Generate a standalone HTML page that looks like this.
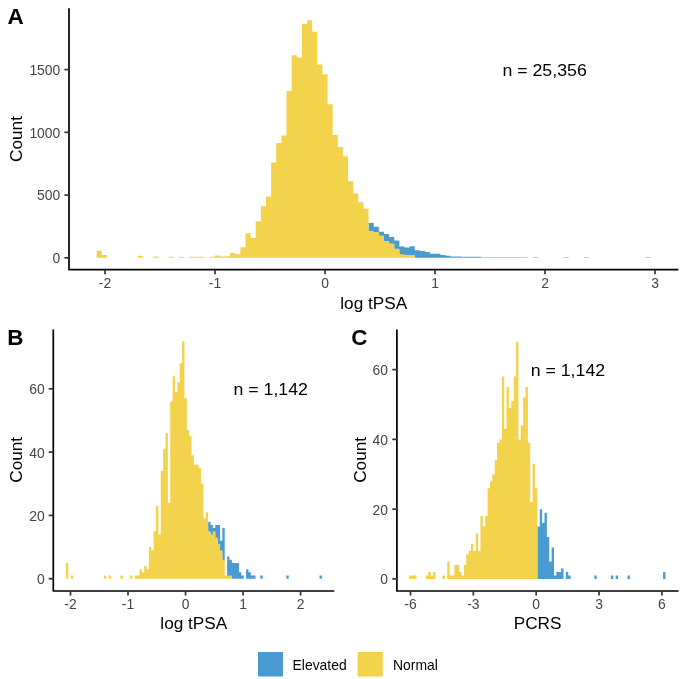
<!DOCTYPE html>
<html><head><meta charset="utf-8"><title>Histograms</title>
<style>
html,body{margin:0;padding:0;background:#fff;}
body{width:685px;height:679px;overflow:hidden;}
svg{display:block;font-family:"Liberation Sans", sans-serif;will-change:transform;filter:blur(0.3px);}
</style></head>
<body>
<svg width="685" height="679" viewBox="0 0 685 679">
<rect width="685" height="679" fill="#fff"/>
<path d="M368.59 232L368.59 222.9L373.72 222.9L373.72 226.8L378.85 226.8L378.85 231.7L383.98 231.7L383.98 234L389.11 234L389.11 237L394.24 237L394.24 240.4L399.37 240.4L399.37 246.5L404.5 246.5L404.5 247.5L409.63 247.5L409.63 246.3L414.76 246.3L414.76 250.3L419.89 250.3L419.89 251L425.02 251L425.02 252.1L430.15 252.1L430.15 253.8L435.28 253.8L435.28 253.8L440.41 253.8L440.41 255L445.54 255L445.54 255.8L450.67 255.8L450.67 256.6L455.8 256.6L455.8 256.6L460.93 256.6L460.93 256.8L466.06 256.8L466.06 256.8L471.19 256.8L471.19 256.8L476.32 256.8L476.32 256.8L481.45 256.8L481.45 257.8L476.32 257.8L476.32 257.8L471.19 257.8L471.19 257.8L466.06 257.8L466.06 257.8L460.93 257.8L460.93 257.8L455.8 257.8L455.8 257.8L450.67 257.8L450.67 257.8L445.54 257.8L445.54 257.8L440.41 257.8L440.41 257.8L435.28 257.8L435.28 257.8L430.15 257.8L430.15 257.8L425.02 257.8L425.02 257.8L419.89 257.8L419.89 257.8L414.76 257.8L414.76 256L409.63 256L409.63 256L404.5 256L404.5 255.2L399.37 255.2L399.37 249.8L394.24 249.8L394.24 244.6L389.11 244.6L389.11 241.9L383.98 241.9L383.98 236.5L378.85 236.5L378.85 233L373.72 233L373.72 232L368.59 232Z" fill="#4B9BD3"/>
<path d="M481.45 257.8L481.45 256.9L486.58 256.9L486.58 256.9L491.71 256.9L491.71 256.9L496.84 256.9L496.84 256.9L501.97 256.9L501.97 256.9L507.1 256.9L507.1 256.9L512.23 256.9L512.23 256.9L517.36 256.9L517.36 256.9L522.49 256.9L522.49 256.9L527.62 256.9L527.62 257.8L522.49 257.8L522.49 257.8L517.36 257.8L517.36 257.8L512.23 257.8L512.23 257.8L507.1 257.8L507.1 257.8L501.97 257.8L501.97 257.8L496.84 257.8L496.84 257.8L491.71 257.8L491.71 257.8L486.58 257.8L486.58 257.8L481.45 257.8ZM532.75 257.8L532.75 256.9L537.88 256.9L537.88 257.8L532.75 257.8ZM563.53 257.8L563.53 256.9L568.66 256.9L568.66 257.8L563.53 257.8ZM584.05 257.8L584.05 256.9L589.18 256.9L589.18 257.8L584.05 257.8ZM645.61 257.8L645.61 256.9L650.74 256.9L650.74 257.8L645.61 257.8Z" fill="#A9B8C6"/>
<path d="M96.7 257.8L96.7 250.7L101.83 250.7L101.83 255L106.96 255L106.96 257.8L101.83 257.8L101.83 257.8L96.7 257.8ZM137.74 257.8L137.74 255.8L142.87 255.8L142.87 257.8L137.74 257.8ZM153.13 257.8L153.13 256.5L158.26 256.5L158.26 257.8L153.13 257.8ZM168.52 257.8L168.52 256.8L173.65 256.8L173.65 257.8L168.52 257.8ZM178.78 257.8L178.78 257L183.91 257L183.91 257.8L178.78 257.8ZM189.04 257.8L189.04 256.8L194.17 256.8L194.17 256.8L199.3 256.8L199.3 256.8L204.43 256.8L204.43 257.8L199.3 257.8L199.3 257.8L194.17 257.8L194.17 257.8L189.04 257.8ZM209.56 257.8L209.56 256.8L214.69 256.8L214.69 255.6L219.82 255.6L219.82 256.6L224.95 256.6L224.95 256.3L230.08 256.3L230.08 253L235.21 253L235.21 254.3L240.34 254.3L240.34 247.3L245.47 247.3L245.47 233.3L250.6 233.3L250.6 237.9L255.73 237.9L255.73 221.5L260.86 221.5L260.86 206.2L265.99 206.2L265.99 196.4L271.12 196.4L271.12 162.4L276.25 162.4L276.25 143L281.38 143L281.38 135.6L286.51 135.6L286.51 91L291.64 91L291.64 55.3L296.77 55.3L296.77 57.4L301.9 57.4L301.9 23.8L307.03 23.8L307.03 20.3L312.16 20.3L312.16 31.8L317.29 31.8L317.29 64.5L322.42 64.5L322.42 74.2L327.55 74.2L327.55 104.2L332.68 104.2L332.68 135.1L337.81 135.1L337.81 146.9L342.94 146.9L342.94 156.3L348.07 156.3L348.07 181.3L353.2 181.3L353.2 193.4L358.33 193.4L358.33 202.2L363.46 202.2L363.46 208.8L368.59 208.8L368.59 231L373.72 231L373.72 232L378.85 232L378.85 235.5L383.98 235.5L383.98 240.9L389.11 240.9L389.11 243.6L394.24 243.6L394.24 248.8L399.37 248.8L399.37 254.2L404.5 254.2L404.5 255L409.63 255L409.63 255L414.76 255L414.76 257.8L409.63 257.8L409.63 257.8L404.5 257.8L404.5 257.8L399.37 257.8L399.37 257.8L394.24 257.8L394.24 257.8L389.11 257.8L389.11 257.8L383.98 257.8L383.98 257.8L378.85 257.8L378.85 257.8L373.72 257.8L373.72 257.8L368.59 257.8L368.59 257.8L363.46 257.8L363.46 257.8L358.33 257.8L358.33 257.8L353.2 257.8L353.2 257.8L348.07 257.8L348.07 257.8L342.94 257.8L342.94 257.8L337.81 257.8L337.81 257.8L332.68 257.8L332.68 257.8L327.55 257.8L327.55 257.8L322.42 257.8L322.42 257.8L317.29 257.8L317.29 257.8L312.16 257.8L312.16 257.8L307.03 257.8L307.03 257.8L301.9 257.8L301.9 257.8L296.77 257.8L296.77 257.8L291.64 257.8L291.64 257.8L286.51 257.8L286.51 257.8L281.38 257.8L281.38 257.8L276.25 257.8L276.25 257.8L271.12 257.8L271.12 257.8L265.99 257.8L265.99 257.8L260.86 257.8L260.86 257.8L255.73 257.8L255.73 257.8L250.6 257.8L250.6 257.8L245.47 257.8L245.47 257.8L240.34 257.8L240.34 257.8L235.21 257.8L235.21 257.8L230.08 257.8L230.08 257.8L224.95 257.8L224.95 257.8L219.82 257.8L219.82 257.8L214.69 257.8L214.69 257.8L209.56 257.8Z" fill="#F3D24C"/>
<path d="M69 8.3V269.7H678.4" fill="none" stroke="#000" stroke-width="1.7" stroke-linecap="butt" stroke-linejoin="round"/>
<line x1="105" y1="269.7" x2="105" y2="274.3" stroke="#333" stroke-width="1.7"/>
<line x1="215" y1="269.7" x2="215" y2="274.3" stroke="#333" stroke-width="1.7"/>
<line x1="325" y1="269.7" x2="325" y2="274.3" stroke="#333" stroke-width="1.7"/>
<line x1="435" y1="269.7" x2="435" y2="274.3" stroke="#333" stroke-width="1.7"/>
<line x1="545" y1="269.7" x2="545" y2="274.3" stroke="#333" stroke-width="1.7"/>
<line x1="655" y1="269.7" x2="655" y2="274.3" stroke="#333" stroke-width="1.7"/>
<line x1="64.4" y1="257.8" x2="69" y2="257.8" stroke="#333" stroke-width="1.7"/>
<line x1="64.4" y1="195.06" x2="69" y2="195.06" stroke="#333" stroke-width="1.7"/>
<line x1="64.4" y1="132.33" x2="69" y2="132.33" stroke="#333" stroke-width="1.7"/>
<line x1="64.4" y1="69.6" x2="69" y2="69.6" stroke="#333" stroke-width="1.7"/>
<text x="105" y="288.3" font-size="13.9" text-anchor="middle" fill="#444444" font-weight="normal">-2</text>
<text x="215" y="288.3" font-size="13.9" text-anchor="middle" fill="#444444" font-weight="normal">-1</text>
<text x="325" y="288.3" font-size="13.9" text-anchor="middle" fill="#444444" font-weight="normal">0</text>
<text x="435" y="288.3" font-size="13.9" text-anchor="middle" fill="#444444" font-weight="normal">1</text>
<text x="545" y="288.3" font-size="13.9" text-anchor="middle" fill="#444444" font-weight="normal">2</text>
<text x="655" y="288.3" font-size="13.9" text-anchor="middle" fill="#444444" font-weight="normal">3</text>
<text x="60.3" y="263.2" font-size="13.9" text-anchor="end" fill="#444444" font-weight="normal">0</text>
<text x="60.3" y="200.47" font-size="13.9" text-anchor="end" fill="#444444" font-weight="normal">500</text>
<text x="60.3" y="137.73" font-size="13.9" text-anchor="end" fill="#444444" font-weight="normal">1000</text>
<text x="60.3" y="75" font-size="13.9" text-anchor="end" fill="#444444" font-weight="normal">1500</text>
<text x="373.7" y="308.7" font-size="17.2" text-anchor="middle" fill="#000" font-weight="normal">log tPSA</text>
<text x="21.9" y="139" font-size="17.2" text-anchor="middle" fill="#000" font-weight="normal" transform="rotate(-90 21.9 139)">Count</text>
<text x="544.6" y="76" font-size="16.9" text-anchor="middle" fill="#000" transform="translate(544.6 0) scale(1.05 1) translate(-544.6 0)">n = 25,356</text>
<text x="7.5" y="24.4" font-size="22.5" text-anchor="start" fill="#000" font-weight="bold">A</text>
<path d="M208.15 532.23L208.15 521.73L210.52 521.73L210.52 524.9L212.89 524.9L212.89 528.06L215.26 528.06L215.26 524.9L217.63 524.9L217.63 524.9L220 524.9L220 540.72L222.37 540.72L222.37 528.06L224.74 528.06L224.74 560.71L222.37 560.71L222.37 551.22L220 551.22L220 544.88L217.63 544.88L217.63 538.56L215.26 538.56L215.26 532.23L212.89 532.23L212.89 535.39L210.52 535.39L210.52 532.23L208.15 532.23ZM227.11 576.54L227.11 556.55L229.48 556.55L229.48 559.71L231.85 559.71L231.85 562.88L234.22 562.88L234.22 562.88L236.59 562.88L236.59 562.88L238.96 562.88L238.96 572.37L241.33 572.37L241.33 575.54L243.7 575.54L243.7 578.7L241.33 578.7L241.33 578.7L238.96 578.7L238.96 578.7L236.59 578.7L236.59 578.7L234.22 578.7L234.22 578.7L231.85 578.7L231.85 576.54L229.48 576.54L229.48 576.54L227.11 576.54ZM246.07 578.7L246.07 569.21L248.44 569.21L248.44 572.37L250.81 572.37L250.81 575.54L253.18 575.54L253.18 575.54L255.55 575.54L255.55 578.7L253.18 578.7L253.18 578.7L250.81 578.7L250.81 578.7L248.44 578.7L248.44 578.7L246.07 578.7ZM260.29 578.7L260.29 575.54L262.66 575.54L262.66 578.7L260.29 578.7ZM286.36 578.7L286.36 575.54L288.73 575.54L288.73 578.7L286.36 578.7ZM319.54 578.7L319.54 575.54L321.91 575.54L321.91 578.7L319.54 578.7Z" fill="#4B9BD3"/>
<path d="M65.95 578.7L65.95 562.88L68.32 562.88L68.32 578.7L65.95 578.7ZM70.69 578.7L70.69 575.54L73.06 575.54L73.06 578.7L70.69 578.7ZM103.87 578.7L103.87 575.54L106.24 575.54L106.24 578.7L103.87 578.7ZM108.61 578.7L108.61 575.54L110.98 575.54L110.98 578.7L108.61 578.7ZM120.46 578.7L120.46 575.54L122.83 575.54L122.83 578.7L120.46 578.7ZM129.94 578.7L129.94 575.54L132.31 575.54L132.31 578.7L129.94 578.7ZM134.68 578.7L134.68 575.54L137.05 575.54L137.05 575.54L139.42 575.54L139.42 569.21L141.79 569.21L141.79 572.37L144.16 572.37L144.16 566.04L146.53 566.04L146.53 569.21L148.9 569.21L148.9 547.05L151.27 547.05L151.27 550.22L153.64 550.22L153.64 531.23L156.01 531.23L156.01 505.91L158.38 505.91L158.38 534.39L160.75 534.39L160.75 471.09L163.12 471.09L163.12 448.94L165.49 448.94L165.49 433.11L167.86 433.11L167.86 502.74L170.23 502.74L170.23 401.46L172.6 401.46L172.6 376.14L174.97 376.14L174.97 391.97L177.34 391.97L177.34 382.47L179.71 382.47L179.71 363.48L182.08 363.48L182.08 341.33L184.45 341.33L184.45 398.3L186.82 398.3L186.82 429.95L189.19 429.95L189.19 436.28L191.56 436.28L191.56 455.27L193.93 455.27L193.93 464.76L196.3 464.76L196.3 464.76L198.67 464.76L198.67 467.93L201.04 467.93L201.04 483.75L203.41 483.75L203.41 518.57L205.78 518.57L205.78 512.24L208.15 512.24L208.15 531.23L210.52 531.23L210.52 534.39L212.89 534.39L212.89 531.23L215.26 531.23L215.26 537.56L217.63 537.56L217.63 543.88L220 543.88L220 550.22L222.37 550.22L222.37 559.71L224.74 559.71L224.74 575.54L227.11 575.54L227.11 575.54L229.48 575.54L229.48 575.54L231.85 575.54L231.85 578.7L229.48 578.7L229.48 578.7L227.11 578.7L227.11 578.7L224.74 578.7L224.74 578.7L222.37 578.7L222.37 578.7L220 578.7L220 578.7L217.63 578.7L217.63 578.7L215.26 578.7L215.26 578.7L212.89 578.7L212.89 578.7L210.52 578.7L210.52 578.7L208.15 578.7L208.15 578.7L205.78 578.7L205.78 578.7L203.41 578.7L203.41 578.7L201.04 578.7L201.04 578.7L198.67 578.7L198.67 578.7L196.3 578.7L196.3 578.7L193.93 578.7L193.93 578.7L191.56 578.7L191.56 578.7L189.19 578.7L189.19 578.7L186.82 578.7L186.82 578.7L184.45 578.7L184.45 578.7L182.08 578.7L182.08 578.7L179.71 578.7L179.71 578.7L177.34 578.7L177.34 578.7L174.97 578.7L174.97 578.7L172.6 578.7L172.6 578.7L170.23 578.7L170.23 578.7L167.86 578.7L167.86 578.7L165.49 578.7L165.49 578.7L163.12 578.7L163.12 578.7L160.75 578.7L160.75 578.7L158.38 578.7L158.38 578.7L156.01 578.7L156.01 578.7L153.64 578.7L153.64 578.7L151.27 578.7L151.27 578.7L148.9 578.7L148.9 578.7L146.53 578.7L146.53 578.7L144.16 578.7L144.16 578.7L141.79 578.7L141.79 578.7L139.42 578.7L139.42 578.7L137.05 578.7L137.05 578.7L134.68 578.7Z" fill="#F3D24C"/>
<path d="M53.3 329.4V591H334.3" fill="none" stroke="#000" stroke-width="1.7" stroke-linecap="butt" stroke-linejoin="round"/>
<line x1="70.49" y1="591" x2="70.49" y2="595.6" stroke="#333" stroke-width="1.7"/>
<line x1="128.02" y1="591" x2="128.02" y2="595.6" stroke="#333" stroke-width="1.7"/>
<line x1="185.55" y1="591" x2="185.55" y2="595.6" stroke="#333" stroke-width="1.7"/>
<line x1="243.08" y1="591" x2="243.08" y2="595.6" stroke="#333" stroke-width="1.7"/>
<line x1="300.61" y1="591" x2="300.61" y2="595.6" stroke="#333" stroke-width="1.7"/>
<line x1="48.7" y1="578.7" x2="53.3" y2="578.7" stroke="#333" stroke-width="1.7"/>
<line x1="48.7" y1="515.4" x2="53.3" y2="515.4" stroke="#333" stroke-width="1.7"/>
<line x1="48.7" y1="452.1" x2="53.3" y2="452.1" stroke="#333" stroke-width="1.7"/>
<line x1="48.7" y1="388.8" x2="53.3" y2="388.8" stroke="#333" stroke-width="1.7"/>
<text x="70.49" y="608.9" font-size="13.9" text-anchor="middle" fill="#444444" font-weight="normal">-2</text>
<text x="128.02" y="608.9" font-size="13.9" text-anchor="middle" fill="#444444" font-weight="normal">-1</text>
<text x="185.55" y="608.9" font-size="13.9" text-anchor="middle" fill="#444444" font-weight="normal">0</text>
<text x="243.08" y="608.9" font-size="13.9" text-anchor="middle" fill="#444444" font-weight="normal">1</text>
<text x="300.61" y="608.9" font-size="13.9" text-anchor="middle" fill="#444444" font-weight="normal">2</text>
<text x="44.7" y="584.3" font-size="13.9" text-anchor="end" fill="#444444" font-weight="normal">0</text>
<text x="44.7" y="521" font-size="13.9" text-anchor="end" fill="#444444" font-weight="normal">20</text>
<text x="44.7" y="457.7" font-size="13.9" text-anchor="end" fill="#444444" font-weight="normal">40</text>
<text x="44.7" y="394.4" font-size="13.9" text-anchor="end" fill="#444444" font-weight="normal">60</text>
<text x="193.8" y="629.4" font-size="17.2" text-anchor="middle" fill="#000" font-weight="normal">log tPSA</text>
<text x="21.9" y="459.8" font-size="17.2" text-anchor="middle" fill="#000" font-weight="normal" transform="rotate(-90 21.9 459.8)">Count</text>
<text x="270.7" y="395" font-size="16.9" text-anchor="middle" fill="#000" transform="translate(270.7 0) scale(1.05 1) translate(-270.7 0)">n = 1,142</text>
<text x="7.3" y="345" font-size="22.5" text-anchor="start" fill="#000" font-weight="bold">B</text>
<path d="M537.39 578.9L537.39 526.58L539.76 526.58L539.76 509.14L542.13 509.14L542.13 523.09L544.5 523.09L544.5 512.63L546.88 512.63L546.88 537.04L549.25 537.04L549.25 561.46L551.62 561.46L551.62 547.51L553.99 547.51L553.99 575.41L556.36 575.41L556.36 571.92L558.74 571.92L558.74 571.92L561.11 571.92L561.11 568.44L563.48 568.44L563.48 578.9L561.11 578.9L561.11 578.9L558.74 578.9L558.74 578.9L556.36 578.9L556.36 578.9L553.99 578.9L553.99 578.9L551.62 578.9L551.62 578.9L549.25 578.9L549.25 578.9L546.88 578.9L546.88 578.9L544.5 578.9L544.5 578.9L542.13 578.9L542.13 578.9L539.76 578.9L539.76 578.9L537.39 578.9ZM565.85 578.9L565.85 571.92L568.22 571.92L568.22 575.41L570.6 575.41L570.6 578.9L568.22 578.9L568.22 578.9L565.85 578.9ZM594.32 578.9L594.32 575.41L596.69 575.41L596.69 578.9L594.32 578.9ZM610.92 578.9L610.92 575.41L613.29 575.41L613.29 578.9L610.92 578.9ZM615.66 578.9L615.66 575.41L618.04 575.41L618.04 578.9L615.66 578.9ZM627.52 578.9L627.52 575.41L629.9 575.41L629.9 578.9L627.52 578.9ZM663.1 578.9L663.1 571.92L665.48 571.92L665.48 578.9L663.1 578.9Z" fill="#4B9BD3"/>
<path d="M409.3 578.9L409.3 575.41L411.67 575.41L411.67 575.41L414.04 575.41L414.04 575.41L416.42 575.41L416.42 578.9L414.04 578.9L414.04 578.9L411.67 578.9L411.67 578.9L409.3 578.9ZM425.9 578.9L425.9 575.41L428.28 575.41L428.28 571.92L430.65 571.92L430.65 575.41L433.02 575.41L433.02 571.92L435.39 571.92L435.39 578.9L433.02 578.9L433.02 578.9L430.65 578.9L430.65 578.9L428.28 578.9L428.28 578.9L425.9 578.9ZM442.51 578.9L442.51 575.41L444.88 575.41L444.88 578.9L442.51 578.9ZM447.25 578.9L447.25 561.46L449.62 561.46L449.62 575.41L452 575.41L452 575.41L454.37 575.41L454.37 564.95L456.74 564.95L456.74 564.95L459.11 564.95L459.11 571.92L461.48 571.92L461.48 575.41L463.86 575.41L463.86 564.95L466.23 564.95L466.23 554.48L468.6 554.48L468.6 551L470.97 551L470.97 544.02L473.34 544.02L473.34 551L475.72 551L475.72 533.56L478.09 533.56L478.09 551L480.46 551L480.46 516.12L482.83 516.12L482.83 526.58L485.2 526.58L485.2 516.12L487.58 516.12L487.58 488.21L489.95 488.21L489.95 481.24L492.32 481.24L492.32 474.26L494.69 474.26L494.69 460.31L497.06 460.31L497.06 442.87L499.44 442.87L499.44 439.38L501.81 439.38L501.81 376.6L504.18 376.6L504.18 428.92L506.55 428.92L506.55 387.06L508.92 387.06L508.92 407.99L511.3 407.99L511.3 401.01L513.67 401.01L513.67 376.6L516.04 376.6L516.04 341.72L518.41 341.72L518.41 439.38L520.78 439.38L520.78 425.43L523.16 425.43L523.16 397.52L525.53 397.52L525.53 387.06L527.9 387.06L527.9 442.87L530.27 442.87L530.27 502.16L532.64 502.16L532.64 463.8L535.02 463.8L535.02 488.21L537.39 488.21L537.39 578.9L535.02 578.9L535.02 578.9L532.64 578.9L532.64 578.9L530.27 578.9L530.27 578.9L527.9 578.9L527.9 578.9L525.53 578.9L525.53 578.9L523.16 578.9L523.16 578.9L520.78 578.9L520.78 578.9L518.41 578.9L518.41 578.9L516.04 578.9L516.04 578.9L513.67 578.9L513.67 578.9L511.3 578.9L511.3 578.9L508.92 578.9L508.92 578.9L506.55 578.9L506.55 578.9L504.18 578.9L504.18 578.9L501.81 578.9L501.81 578.9L499.44 578.9L499.44 578.9L497.06 578.9L497.06 578.9L494.69 578.9L494.69 578.9L492.32 578.9L492.32 578.9L489.95 578.9L489.95 578.9L487.58 578.9L487.58 578.9L485.2 578.9L485.2 578.9L482.83 578.9L482.83 578.9L480.46 578.9L480.46 578.9L478.09 578.9L478.09 578.9L475.72 578.9L475.72 578.9L473.34 578.9L473.34 578.9L470.97 578.9L470.97 578.9L468.6 578.9L468.6 578.9L466.23 578.9L466.23 578.9L463.86 578.9L463.86 578.9L461.48 578.9L461.48 578.9L459.11 578.9L459.11 578.9L456.74 578.9L456.74 578.9L454.37 578.9L454.37 578.9L452 578.9L452 578.9L449.62 578.9L449.62 578.9L447.25 578.9Z" fill="#F3D24C"/>
<path d="M396.9 329.6V591H678.6" fill="none" stroke="#000" stroke-width="1.7" stroke-linecap="butt" stroke-linejoin="round"/>
<line x1="410.5" y1="591" x2="410.5" y2="595.6" stroke="#333" stroke-width="1.7"/>
<line x1="473.35" y1="591" x2="473.35" y2="595.6" stroke="#333" stroke-width="1.7"/>
<line x1="536.2" y1="591" x2="536.2" y2="595.6" stroke="#333" stroke-width="1.7"/>
<line x1="599.05" y1="591" x2="599.05" y2="595.6" stroke="#333" stroke-width="1.7"/>
<line x1="661.9" y1="591" x2="661.9" y2="595.6" stroke="#333" stroke-width="1.7"/>
<line x1="392.3" y1="578.9" x2="396.9" y2="578.9" stroke="#333" stroke-width="1.7"/>
<line x1="392.3" y1="509.14" x2="396.9" y2="509.14" stroke="#333" stroke-width="1.7"/>
<line x1="392.3" y1="439.38" x2="396.9" y2="439.38" stroke="#333" stroke-width="1.7"/>
<line x1="392.3" y1="369.62" x2="396.9" y2="369.62" stroke="#333" stroke-width="1.7"/>
<text x="410.5" y="608.9" font-size="13.9" text-anchor="middle" fill="#444444" font-weight="normal">-6</text>
<text x="473.35" y="608.9" font-size="13.9" text-anchor="middle" fill="#444444" font-weight="normal">-3</text>
<text x="536.2" y="608.9" font-size="13.9" text-anchor="middle" fill="#444444" font-weight="normal">0</text>
<text x="599.05" y="608.9" font-size="13.9" text-anchor="middle" fill="#444444" font-weight="normal">3</text>
<text x="661.9" y="608.9" font-size="13.9" text-anchor="middle" fill="#444444" font-weight="normal">6</text>
<text x="388" y="584.3" font-size="13.9" text-anchor="end" fill="#444444" font-weight="normal">0</text>
<text x="388" y="514.54" font-size="13.9" text-anchor="end" fill="#444444" font-weight="normal">20</text>
<text x="388" y="444.78" font-size="13.9" text-anchor="end" fill="#444444" font-weight="normal">40</text>
<text x="388" y="375.02" font-size="13.9" text-anchor="end" fill="#444444" font-weight="normal">60</text>
<text x="537.6" y="629.3" font-size="17.2" text-anchor="middle" fill="#000" font-weight="normal">PCRS</text>
<text x="366" y="459.9" font-size="17.2" text-anchor="middle" fill="#000" font-weight="normal" transform="rotate(-90 366 459.9)">Count</text>
<text x="567.9" y="376.2" font-size="16.9" text-anchor="middle" fill="#000" transform="translate(567.9 0) scale(1.05 1) translate(-567.9 0)">n = 1,142</text>
<text x="351.3" y="345" font-size="22.5" text-anchor="start" fill="#000" font-weight="bold">C</text>
<rect x="258" y="652" width="25" height="24.5" fill="#4B9BD3"/>
<rect x="357.6" y="652" width="25.2" height="24.5" fill="#F3D24C"/>
<text x="292.6" y="670" font-size="13.9" text-anchor="start" fill="#000" font-weight="normal">Elevated</text>
<text x="393" y="670" font-size="13.9" text-anchor="start" fill="#000" font-weight="normal">Normal</text>
</svg>
</body></html>
